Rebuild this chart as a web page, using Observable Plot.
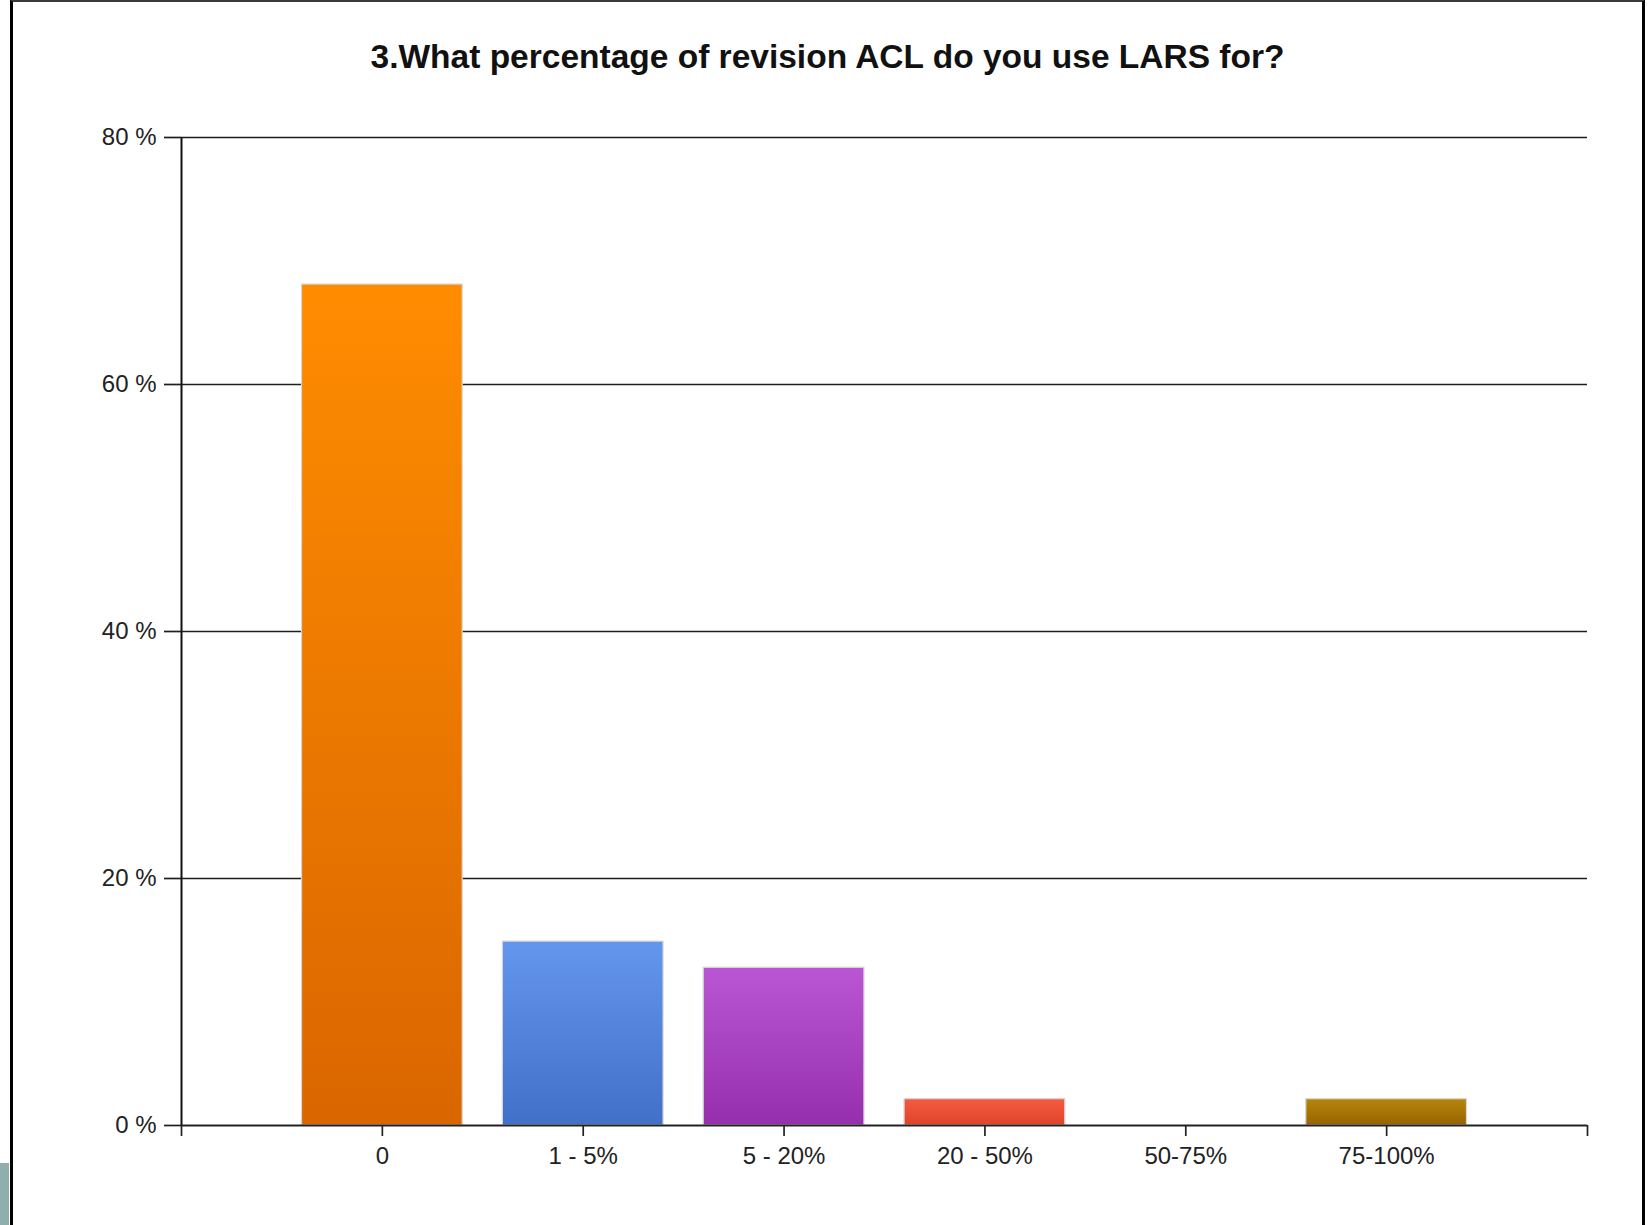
<!DOCTYPE html>
<html>
<head>
<meta charset="utf-8">
<script src="https://cdn.jsdelivr.net/npm/d3@7"></script>
<script src="https://cdn.jsdelivr.net/npm/@observablehq/plot@0.6"></script>
<style>
  html, body { margin: 0; padding: 0; background: #fff; }
  body { width: 1648px; height: 1225px; position: relative; overflow: hidden; font-family: "Liberation Sans", Arial, sans-serif; }
  #frame { position: absolute; left: 10px; top: 0; width: 1635px; height: 1225px; box-sizing: border-box; z-index: 2; pointer-events: none;
           border-left: 3px solid #000; border-top: 2px solid #3a3a3a; border-right: 3px solid #000; }
  #tab { position: absolute; left: 0; top: 1163px; width: 9px; height: 62px; background: #8fafaf; z-index: 2; }
  #title { position: absolute; left: 7px; width: 1641px; top: 37px; line-height: 40px; text-align: center;
           font-weight: bold; font-size: 33.5px; color: #111; z-index: 1; }
  #chart { position: absolute; left: 0; top: 100px; z-index: 0; }
</style>
</head>
<body>
<div id="chart"></div>
<div id="title">3.What percentage of revision ACL do you use LARS for?</div>
<div id="frame"></div>
<div id="tab"></div>
<script>
const categories = ["0", "1 - 5%", "5 - 20%", "20 - 50%", "50-75%", "75-100%"];
const percents = [68.09, 14.89, 12.77, 2.13, 0, 2.13];
const topColors = ["#ff8c00", "#6596ee", "#ba55d3", "#f55b40", "#8fbc3f", "#b8860b"];
const bottomColors = ["#da6600", "#4070c8", "#952fae", "#de4428", "#6e9a2a", "#966300"];
const yTicks = [0, 20, 40, 60, 80];

const data = categories.map((c, i) => ({i, pos: i + 1, category: c, value: percents[i]}));

const defs = () => {
  const svgNS = "http://www.w3.org/2000/svg";
  const d = document.createElementNS(svgNS, "defs");
  categories.forEach((c, i) => {
    const g = document.createElementNS(svgNS, "linearGradient");
    g.setAttribute("id", "grad" + i);
    g.setAttribute("x1", "0"); g.setAttribute("y1", "0");
    g.setAttribute("x2", "0"); g.setAttribute("y2", "1");
    const s1 = document.createElementNS(svgNS, "stop");
    s1.setAttribute("offset", "0"); s1.setAttribute("stop-color", topColors[i]);
    const s2 = document.createElementNS(svgNS, "stop");
    s2.setAttribute("offset", "1"); s2.setAttribute("stop-color", bottomColors[i]);
    g.appendChild(s1); g.appendChild(s2);
    d.appendChild(g);
  });
  return d;
};

const chart = Plot.plot({
  width: 1648,
  height: 1125,
  marginLeft: 181,
  marginRight: 61,
  marginTop: 37,
  marginBottom: 100,
  x: {type: "linear", domain: [0, 7]},
  y: {domain: [0, 80]},
  style: {fontFamily: "'Liberation Sans', Arial, sans-serif", fontSize: "24px", color: "#222", background: "none", overflow: "visible"},
  marks: [
    defs,
    Plot.ruleY(yTicks.filter(t => t > 0), {stroke: "#1e1e1e", strokeWidth: 1.7}),
    Plot.rect(data.filter(d => d.value > 0), {
      x1: d => d.pos - 0.4,
      x2: d => d.pos + 0.4,
      y1: 0,
      y2: "value",
      fill: d => `url(#grad${d.i})`,
      stroke: "#d6d6d6",
      strokeWidth: 1.2
    }),
    Plot.ruleX([0], {stroke: "#111", strokeWidth: 2}),
    Plot.ruleY([0], {stroke: "#222", strokeWidth: 2}),
    Plot.axisY({ticks: yTicks, tickFormat: d => d + " %", tickSize: 17, tickPadding: 8, stroke: "#1e1e1e", strokeWidth: 1.7, label: null, fill: "#222"}),
    Plot.axisX({ticks: d3.range(0, categories.length + 2), tickFormat: d => categories[d - 1] ?? "", tickSize: 11, tickPadding: 10, stroke: "#222", strokeWidth: 1.7, label: null, fill: "#222"})
  ]
});
document.getElementById("chart").appendChild(chart);
</script>
</body>
</html>
